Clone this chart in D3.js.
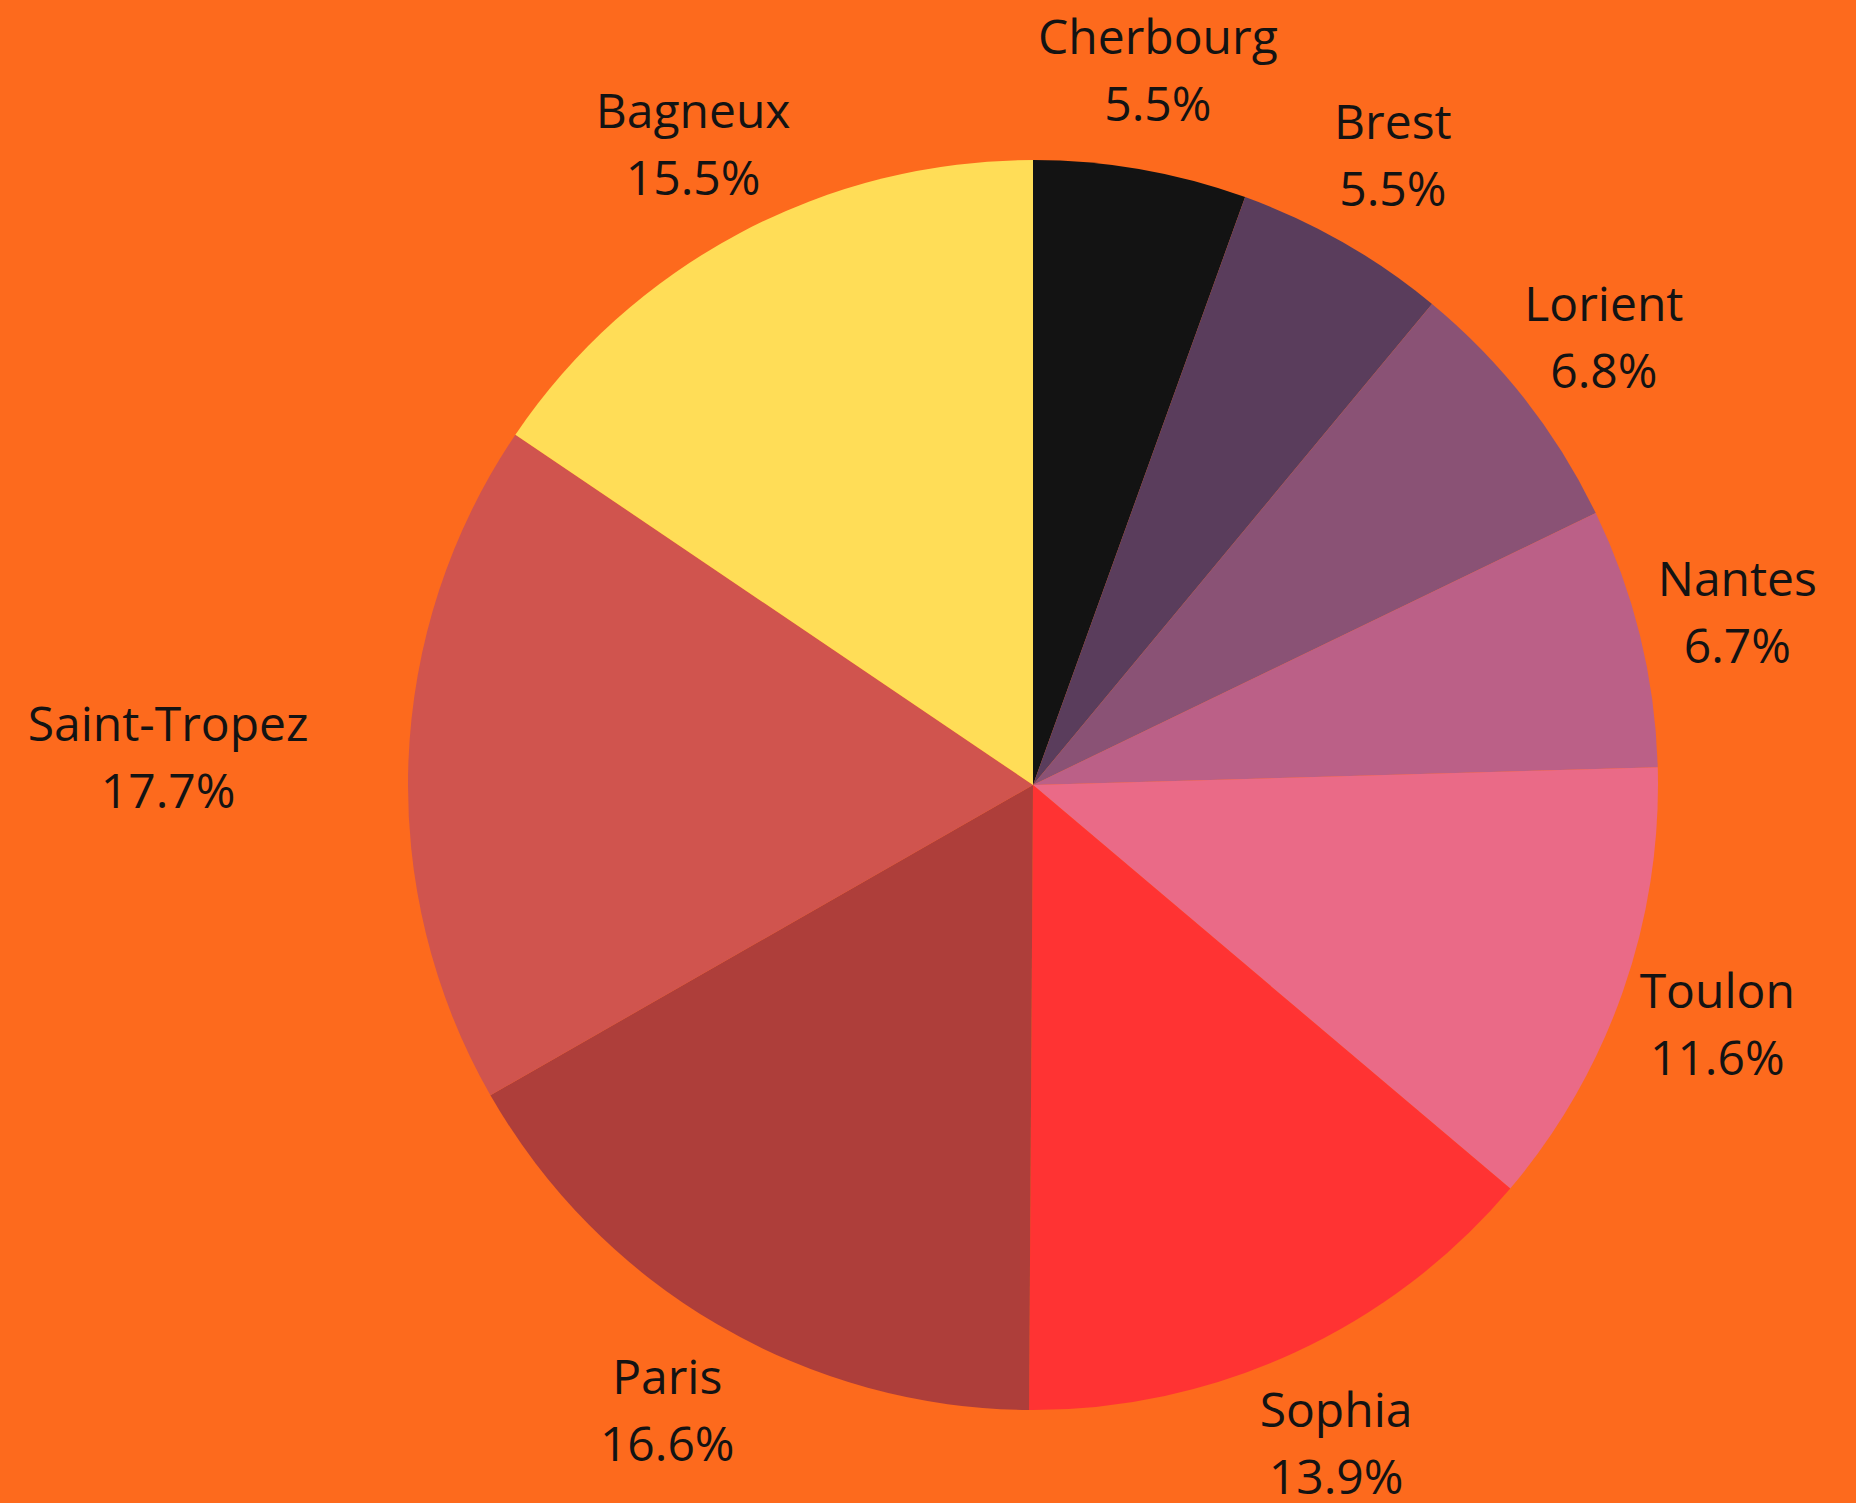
<!DOCTYPE html>
<html>
<head>
<meta charset="utf-8">
<script src="https://cdn.jsdelivr.net/npm/d3@7"></script>
<style>
  html, body { margin: 0; padding: 0; background: #fd6a1d; }
  svg { display: block; }
  .label text { font-family: 'Open Sans', sans-serif; font-size: 48px; fill: #131313; }
</style>
</head>
<body>
<svg id="chart" width="1856" height="1503"></svg>
<script>
// data, clockwise from 12 o'clock
const cities = ['Cherbourg', 'Brest', 'Lorient', 'Nantes', 'Toulon', 'Sophia', 'Paris', 'Saint-Tropez', 'Bagneux'];
const shares = [5.5, 5.5, 6.8, 6.7, 11.6, 13.9, 16.6, 17.7, 15.5];
const colors = ['#131313', '#5a3d5c', '#8a5275', '#bb6087', '#ea6a87', '#ff3333', '#ae3e3a', '#d0544e', '#ffdd57'];

const svg = d3.select('#chart');

const cx = 1033, cy = 785;
const radius = 625;
const labelRadius = 725;

const data = cities.map((c, i) => ({ city: c, value: shares[i], color: colors[i] }));

const pie = d3.pie()
  .value(d => d.value)
  .sort(null);

const arc = d3.arc()
  .innerRadius(0)
  .outerRadius(radius);

const labelArc = d3.arc()
  .innerRadius(labelRadius)
  .outerRadius(labelRadius);

const arcs = pie(data);

const chart = svg.append('g')
  .attr('transform', `translate(${cx},${cy})`);

chart.selectAll('path')
  .data(arcs)
  .join('path')
    .attr('d', arc)
    .attr('fill', d => d.data.color);

// labels: two lines centred on the label point, pushed sideways near 3/9 o'clock
const labels = chart.selectAll('g.label')
  .data(arcs)
  .join('g')
    .attr('class', 'label');

labels.each(function(d) {
  const g = d3.select(this);
  const t1 = g.append('text')
    .attr('text-anchor', 'middle')
    .attr('y', -17)
    .text(d.data.city);
  g.append('text')
    .attr('text-anchor', 'middle')
    .attr('y', 50)
    .text(d.data.value.toFixed(1) + '%');

  const [x, y] = labelArc.centroid(d);
  const mid = (d.startAngle + d.endAngle) / 2;
  const s = Math.sin(mid);
  let dx = 0;
  if (Math.abs(s) > 0.99) {
    const w = t1.node().getComputedTextLength();
    dx = Math.sign(s) * w / 2;
  }
  g.attr('transform', `translate(${x + dx},${y})`);
});
</script>
</body>
</html>
